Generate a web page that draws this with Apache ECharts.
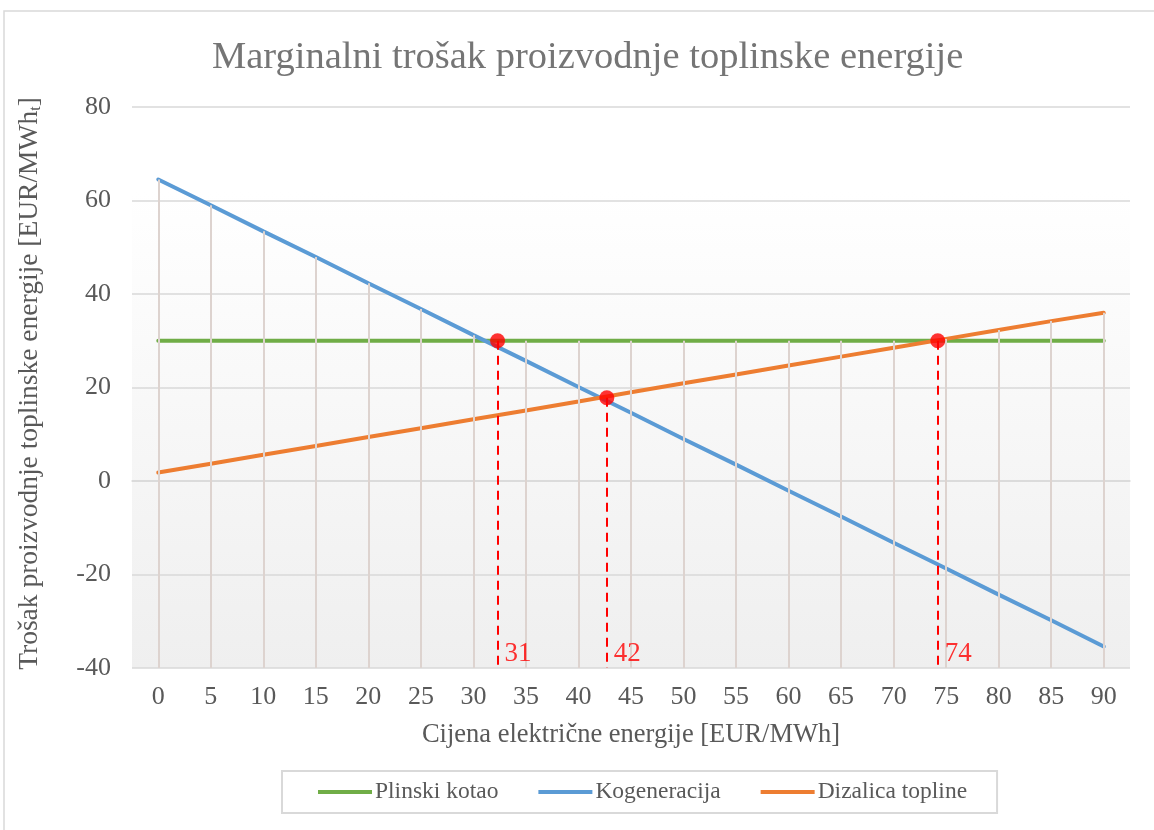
<!DOCTYPE html>
<html>
<head>
<meta charset="utf-8">
<title>Marginalni trošak proizvodnje toplinske energije</title>
<script src="https://cdn.jsdelivr.net/npm/echarts@6/dist/echarts.min.js"></script>
<style>
  html, body { margin: 0; padding: 0; background: #fff; }
  #chart { width: 1154px; height: 830px; }
</style>
</head>
<body>
<div id="chart"></div>
<script>
// x kategorije - cijena električne energije
const categories = [0, 5, 10, 15, 20, 25, 30, 35, 40, 45, 50, 55, 60, 65, 70, 75, 80, 85, 90]

// vrijednosti očitane sa slike
const plinskiKotao = [30, 30, 30, 30, 30, 30, 30, 30, 30, 30, 30, 30, 30, 30, 30, 30, 30, 30, 30]
const kogeneracija = [64.5, 59, 53.4, 47.9, 42.3, 36.8, 31.2, 25.7, 20.1, 14.6, 9, 3.5, -2.1, -7.6, -13.2, -18.7, -24.3, -29.8, -35.4]
const dizalicaTopline = [1.8, 3.7, 5.6, 7.5, 9.4, 11.3, 13.2, 15.1, 17, 19, 20.9, 22.8, 24.7, 26.6, 28.5, 30.4, 32.3, 34.2, 36]

// presjecišta i oznake
const presjeciX = [32.3, 42.7, 74.2]
const presjeciY = [30, 17.8, 30]
const presjeciOznake = ['31', '42', '74']

const yTicks = [-40, -20, 0, 20, 40, 60, 80]

const FONT = '"Liberation Serif", "Times New Roman", serif'
const TEXT = '#595959'

const toPairs = (vals) => categories.map((c, i) => [c, vals[i]])

// drop lines from the highest series point down to the axis
const dropLines = categories.map((c, i) => {
  const top = Math.max(plinskiKotao[i], kogeneracija[i], dizalicaTopline[i])
  return [{ coord: [c, top] }, { coord: [c, yTicks[0]] }]
})

const chart = echarts.init(document.getElementById('chart'))

chart.setOption({
  animation: false,
  textStyle: { fontFamily: FONT },
  title: {
    text: 'Marginalni trošak proizvodnje toplinske energije',
    left: 207,
    top: 33,
    textStyle: { fontFamily: FONT, fontSize: 38.5, fontWeight: 'normal', color: '#757575' }
  },
  graphic: [{
    type: 'rect',
    shape: { x: 4, y: 11, width: 1170, height: 840 },
    style: { fill: 'none', stroke: '#d9d9d9', lineWidth: 1.5 },
    silent: true
  }],
  legend: {
    top: 771,
    left: 282,
    data: ['Plinski kotao', 'Kogeneracija', 'Dizalica topline'],
    icon: 'rect',
    itemWidth: 54,
    itemHeight: 4,
    itemGap: 40,
    padding: [9, 30, 9, 36],
    borderColor: '#d9d9d9',
    borderWidth: 2,
    textStyle: { fontFamily: FONT, fontSize: 23.5, color: TEXT, padding: [0, 0, 0, -2] }
  },
  grid: {
    left: 132,
    right: 24,
    top: 107,
    bottom: 162,
    show: true,
    borderWidth: 0,
    backgroundColor: new echarts.graphic.LinearGradient(0, 0, 0, 1, [
      { offset: 0, color: '#ffffff' },
      { offset: 0.15, color: '#ffffff' },
      { offset: 1, color: '#efefef' }
    ])
  },
  xAxis: [
    {
      type: 'category',
      data: categories.map(String),
      boundaryGap: true,
      name: 'Cijena električne energije [EUR/MWh]',
      nameLocation: 'middle',
      nameGap: 54,
      nameTextStyle: { fontFamily: FONT, fontSize: 26.5, color: TEXT },
      axisLine: { lineStyle: { color: '#d9d9d9', width: 1.5 } },
      axisTick: { show: false },
      axisLabel: { fontFamily: FONT, fontSize: 26, color: TEXT, margin: 16 },
      splitLine: { show: false }
    },
    {
      type: 'value',
      min: -2.5,
      max: 92.5,
      show: false
    }
  ],
  yAxis: {
    type: 'value',
    min: -40,
    max: 80,
    interval: 20,
    name: '{a|Trošak proizvodnje toplinske energije [EUR/MWh}{s|t}{a|]}',
    nameLocation: 'middle',
    nameGap: 88,
    nameTextStyle: {
      padding: [0, 0, 0, 8],
      rich: {
        a: { fontFamily: FONT, fontSize: 27.5, color: TEXT },
        s: { fontFamily: FONT, fontSize: 16, color: TEXT, verticalAlign: 'bottom', padding: [12, 0, 0, 0] }
      }
    },
    axisLine: { show: false },
    axisTick: { show: false },
    axisLabel: { fontFamily: FONT, fontSize: 26, color: TEXT, margin: 21 },
    splitLine: { lineStyle: { color: '#d9d9d9', width: 1.5 } }
  },
  series: [
    {
      name: 'drop',
      type: 'line',
      xAxisIndex: 1,
      data: [],
      silent: true,
      z: 1,
      markLine: {
        silent: true,
        symbol: 'none',
        label: { show: false },
        lineStyle: { color: '#ddd3cf', width: 2, type: 'solid' },
        data: dropLines
      }
    },
    {
      name: 'Plinski kotao',
      type: 'line',
      xAxisIndex: 1,
      data: toPairs(plinskiKotao),
      showSymbol: false,
      symbol: 'none',
      color: '#70ad47',
      lineStyle: { width: 4, cap: 'round' },
      z: 3
    },
    {
      name: 'Kogeneracija',
      type: 'line',
      xAxisIndex: 1,
      data: toPairs(kogeneracija),
      showSymbol: false,
      symbol: 'none',
      color: '#5b9bd5',
      lineStyle: { width: 4, cap: 'round' },
      z: 3
    },
    {
      name: 'Dizalica topline',
      type: 'line',
      xAxisIndex: 1,
      data: toPairs(dizalicaTopline),
      showSymbol: false,
      symbol: 'none',
      color: '#ed7d31',
      lineStyle: { width: 4, cap: 'round' },
      z: 3
    },
    {
      name: 'presjeci',
      type: 'scatter',
      xAxisIndex: 1,
      data: presjeciX.map((x, i) => [x, presjeciY[i]]),
      symbolSize: 15,
      itemStyle: { color: '#ff0000' },
      z: 5,
      markLine: {
        silent: true,
        symbol: 'none',
        label: { show: false },
        lineStyle: { color: '#ff0000', width: 2, type: [9, 6] },
        data: presjeciX.map((x, i) => [{ coord: [x, presjeciY[i]] }, { coord: [x, yTicks[0]] }])
      }
    },
    {
      name: 'oznake',
      type: 'scatter',
      xAxisIndex: 1,
      data: presjeciX.map((x, i) => ({ value: [x, yTicks[0]], name: presjeciOznake[i] })),
      symbolSize: 0,
      silent: true,
      z: 6,
      label: {
        show: true,
        position: 'right',
        distance: 7,
        offset: [0, -14],
        formatter: (p) => p.name,
        fontFamily: FONT,
        fontSize: 27,
        color: '#ff0000'
      }
    }
  ]
})

window.addEventListener('resize', () => chart.resize())
</script>
</body>
</html>
